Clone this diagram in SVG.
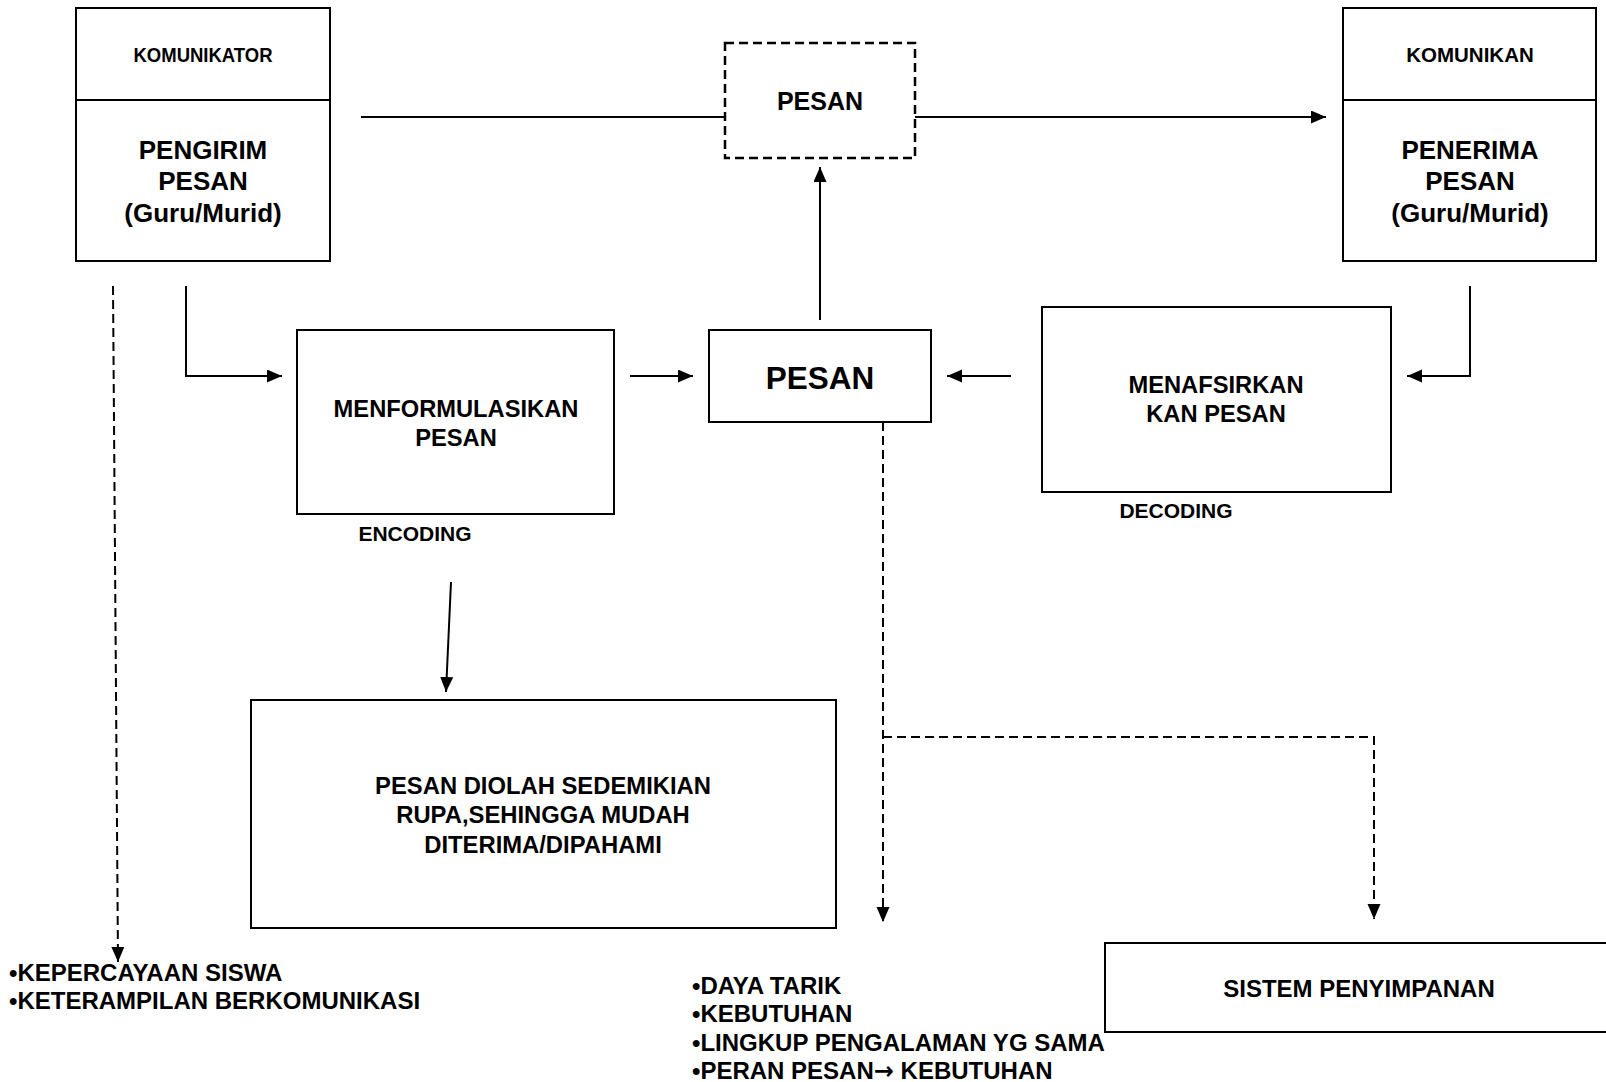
<svg xmlns="http://www.w3.org/2000/svg" width="1606" height="1082" viewBox="0 0 1606 1082">
<style>
  text { font-family: "Liberation Sans", Arial, sans-serif; font-weight: bold; fill: #000; }
  .c { text-anchor: middle; }
  .box { fill: #fff; stroke: #000; stroke-width: 2; }
  .dbox { fill: #fff; stroke: #000; stroke-width: 2.5; stroke-dasharray: 9 5; }
  .ln { fill: none; stroke: #000; stroke-width: 2; }
  .dl { fill: none; stroke: #000; stroke-width: 2; stroke-dasharray: 9 5; }
  .arr { font-family: "DejaVu Sans", sans-serif; }
</style>
<defs>
  <marker id="ah" markerUnits="userSpaceOnUse" markerWidth="16" markerHeight="14" refX="15" refY="6.5" orient="auto">
    <path d="M0,0 L15,6.5 L0,13 z" fill="#000"/>
  </marker>
</defs>
<rect width="1606" height="1082" fill="#fff"/>

<g id="connectors">
  <line class="ln" x1="361" y1="117" x2="725" y2="117"/>
  <line class="ln" x1="915" y1="117" x2="1326" y2="117" marker-end="url(#ah)"/>
  <polyline class="ln" points="186,286 186,376 282,376" marker-end="url(#ah)"/>
  <line class="ln" x1="630" y1="376" x2="693" y2="376" marker-end="url(#ah)"/>
  <line class="ln" x1="820" y1="320" x2="820" y2="167" marker-end="url(#ah)"/>
  <line class="ln" x1="1011" y1="376" x2="947" y2="376" marker-end="url(#ah)"/>
  <polyline class="ln" points="1470,286 1470,376 1407,376" marker-end="url(#ah)"/>
  <line class="ln" x1="451" y1="582" x2="446" y2="692" marker-end="url(#ah)"/>
  <line class="dl" x1="113" y1="286" x2="118" y2="962" marker-end="url(#ah)"/>
  <line class="dl" x1="883" y1="422" x2="883" y2="922" marker-end="url(#ah)"/>
  <polyline class="dl" points="883,737 1374,737 1374,919" marker-end="url(#ah)"/>
</g>

<g id="komunikator">
  <rect class="box" x="76" y="8" width="254" height="253"/>
  <line class="ln" x1="76" y1="100" x2="330" y2="100"/>
  <text class="c" x="203" y="62" font-size="20" textLength="139" lengthAdjust="spacingAndGlyphs">KOMUNIKATOR</text>
  <text class="c" x="203" y="159" font-size="26">PENGIRIM</text>
  <text class="c" x="203" y="190" font-size="26">PESAN</text>
  <text class="c" x="203" y="222" font-size="26">(Guru/Murid)</text>
</g>

<g id="pesan-top">
  <rect class="dbox" x="725" y="43" width="190" height="115"/>
  <text class="c" x="820" y="110" font-size="25">PESAN</text>
</g>

<g id="komunikan">
  <rect class="box" x="1343" y="8" width="253" height="253"/>
  <line class="ln" x1="1343" y1="100" x2="1596" y2="100"/>
  <text class="c" x="1470" y="62" font-size="20.5">KOMUNIKAN</text>
  <text class="c" x="1470" y="159" font-size="26">PENERIMA</text>
  <text class="c" x="1470" y="190" font-size="26">PESAN</text>
  <text class="c" x="1470" y="222" font-size="26">(Guru/Murid)</text>
</g>

<g id="encoding">
  <rect class="box" x="297" y="330" width="317" height="184"/>
  <text class="c" x="456" y="417" font-size="23.7">MENFORMULASIKAN</text>
  <text class="c" x="456" y="446" font-size="23.7">PESAN</text>
  <text class="c" x="415" y="541" font-size="21">ENCODING</text>
</g>

<g id="pesan-center">
  <rect class="box" x="709" y="330" width="222" height="92"/>
  <text class="c" x="820" y="389" font-size="31.5">PESAN</text>
</g>

<g id="decoding">
  <rect class="box" x="1042" y="307" width="349" height="185"/>
  <text class="c" x="1216" y="393" font-size="23.7">MENAFSIRKAN</text>
  <text class="c" x="1216" y="422" font-size="23.7">KAN PESAN</text>
  <text class="c" x="1176" y="518" font-size="21">DECODING</text>
</g>

<g id="pesan-diolah">
  <rect class="box" x="251" y="700" width="585" height="228"/>
  <text class="c" x="543" y="794" font-size="23.8">PESAN DIOLAH SEDEMIKIAN</text>
  <text class="c" x="543" y="823" font-size="23.8">RUPA,SEHINGGA MUDAH</text>
  <text class="c" x="543" y="853" font-size="23.8">DITERIMA/DIPAHAMI</text>
</g>

<g id="faktor-komunikator">
  <text x="9" y="981" font-size="24">•KEPERCAYAAN SISWA</text>
  <text x="9" y="1009" font-size="24">•KETERAMPILAN BERKOMUNIKASI</text>
</g>

<g id="faktor-pesan">
  <text x="692" y="994" font-size="24">•DAYA TARIK</text>
  <text x="692" y="1022" font-size="24">•KEBUTUHAN</text>
  <text x="692" y="1051" font-size="24">•LINGKUP PENGALAMAN YG SAMA</text>
  <text x="692" y="1079" font-size="24">•PERAN PESAN<tspan class="arr">→</tspan> KEBUTUHAN</text>
</g>

<g id="sistem-penyimpanan">
  <rect class="box" x="1105" y="943" width="520" height="89"/>
  <text class="c" x="1359" y="997" font-size="24">SISTEM PENYIMPANAN</text>
</g>
</svg>
